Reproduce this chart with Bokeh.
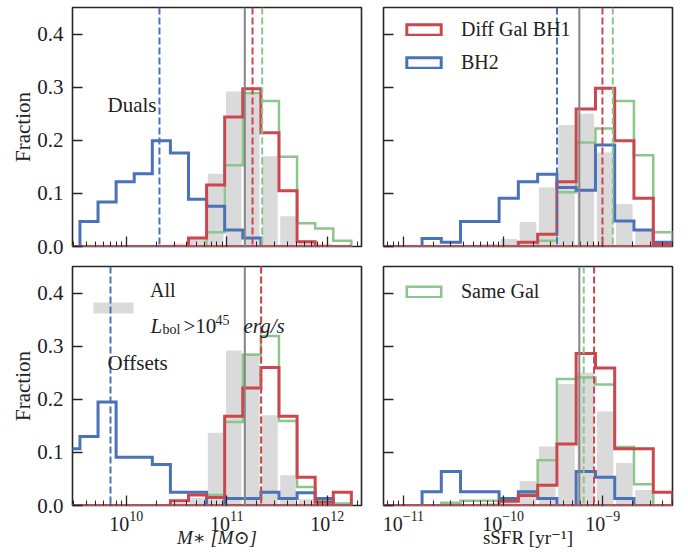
import numpy as np
from bokeh.plotting import figure
from bokeh.models import (Range1d, FixedTicker, PrintfTickFormatter, CustomJSTickFormatter,
                          Span, Label, Legend, LegendItem, BoxAnnotation)
from bokeh.layouts import gridplot
from bokeh.embed import file_html
from bokeh.resources import INLINE

# ---------------- data (log10 bin edges and fractions per bin) ----------------
mass_edges = [9.36, 9.54, 9.72, 9.90, 10.08, 10.26, 10.44, 10.62, 10.80, 10.98,
              11.16, 11.34, 11.52, 11.70, 11.88, 12.06, 12.24]
ssfr_edges = [-11.2, -11.007, -10.813, -10.62, -10.427, -10.233, -10.04, -9.847,
              -9.653, -9.46, -9.267, -9.073, -8.88, -8.687, -8.493, -8.3]

# "All, L_bol > 1e45 erg/s"
all_mass = [0, 0, 0, 0, 0, 0, 0.005, 0.014, 0.137, 0.292, 0.287, 0.170, 0.057, 0.012, 0.005, 0]
all_ssfr = [0, 0, 0, 0, 0.003, 0.005, 0.014, 0.046, 0.111, 0.229, 0.250, 0.177, 0.080, 0.029, 0]

# Duals
dual_bh1_mass = [0, 0, 0, 0, 0, 0, 0, 0.016, 0.116, 0.244, 0.297, 0.214, 0.105, 0.009, 0, 0]
dual_bh2_mass = [0, 0.047, 0.084, 0.122, 0.137, 0.199, 0.176, 0.089, 0.076, 0.031, 0.016, 0, 0, 0, 0, 0]
dual_same_mass = [0, 0, 0, 0, 0, 0, 0, 0, 0.027, 0.153, 0.289, 0.274, 0.169, 0.044, 0.034, 0.011]
dual_bh1_ssfr = [0, 0, 0, 0, 0, 0, 0, 0.008, 0.023, 0.122, 0.259, 0.298, 0.199, 0.091, 0.004]
dual_bh2_ssfr = [0, 0, 0.015, 0.008, 0.047, 0.047, 0.091, 0.122, 0.136, 0.111, 0.106, 0.191, 0.048, 0.031, 0.008]
dual_same_ssfr = [0, 0, 0, 0, 0, 0, 0, 0, 0.011, 0.102, 0.196, 0.222, 0.274, 0.172, 0.027]

# Offsets
off_bh1_mass = [0, 0, 0, 0, 0, 0, 0.009, 0.020, 0.015, 0.168, 0.221, 0.260, 0.168, 0.053, 0.006, 0.025]
off_bh2_mass = [0.107, 0.130, 0.195, 0.091, 0.091, 0.077, 0.025, 0.025, 0, 0.013, 0.013, 0.025, 0.013, 0.024, 0.013, 0]
off_same_mass = [0, 0, 0, 0, 0, 0, 0, 0, 0.020, 0.157, 0.284, 0.319, 0.159, 0.035, 0.008, 0.004]
off_bh1_ssfr = [0, 0, 0, 0, 0, 0, 0.008, 0.019, 0.038, 0.116, 0.286, 0.259, 0.107, 0.107, 0.025]
off_bh2_ssfr = [0, 0, 0.026, 0.064, 0.026, 0.026, 0.013, 0.026, 0.013, 0, 0.064, 0.053, 0.013, 0, 0]
off_same_ssfr = [0, 0, 0, 0.005, 0.009, 0.009, 0.009, 0.022, 0.085, 0.238, 0.241, 0.228, 0.110, 0.040, 0]

# medians (log10)
med_all_mass = 11.18
med_all_ssfr = -9.235
dual_med_mass = {"bh1": 11.257, "bh2": 10.331, "same": 11.353}
dual_med_ssfr = {"bh1": -9.003, "bh2": -9.459, "same": -8.899}
off_med_mass = {"bh1": 11.343, "bh2": 9.844, "same": 11.34}
off_med_ssfr = {"bh1": -9.087, "same": -9.191}

mass_xlim = (9.466, 12.341)
ssfr_xlim = (-11.2, -8.3)
y_ticks = [0, 0.1, 0.2, 0.3, 0.4]

# ---------------- style ----------------
FONT = "'Liberation Serif', 'Times New Roman', 'DejaVu Serif', serif"
RED = "#cc464e"
BLUE = "#4a72b8"
GREEN = "#8cc68c"
GRAYBAR = "#dadada"
MEDGRAY = "#858585"
INK = "#262626"


def step_outline(edges, vals):
    e = np.asarray(edges, dtype=float)
    xs = [e[0]]
    ys = [0.0]
    for i, v in enumerate(vals):
        xs += [e[i], e[i + 1]]
        ys += [v, v]
    xs.append(e[-1])
    ys.append(0.0)
    return list(10 ** np.array(xs)), ys


def make_fig(xlim, left, right, top, bottom, show_x, show_y, xlabel=None):
    p = figure(x_axis_type="log",
               x_range=Range1d(10 ** xlim[0], 10 ** xlim[1]),
               y_range=Range1d(0, 0.45),
               frame_width=289, frame_height=239,
               min_border_left=left, min_border_right=right,
               min_border_top=top, min_border_bottom=bottom,
               output_backend="svg", toolbar_location=None,
               background_fill_color="white", border_fill_color=None)
    p.xgrid.visible = False
    p.ygrid.visible = False
    p.outline_line_color = INK
    p.outline_line_width = 1.6
    p.outline_line_alpha = 1.0
    for ax in (p.xaxis[0], p.yaxis[0]):
        ax.axis_line_color = None
        ax.major_tick_in = 10
        ax.major_tick_out = 0
        ax.minor_tick_in = 5
        ax.minor_tick_out = 0
        ax.major_tick_line_color = INK
        ax.minor_tick_line_color = INK
        ax.major_tick_line_width = 1.3
        ax.minor_tick_line_width = 1.0
        ax.major_label_text_font = FONT
        ax.major_label_text_color = "#222222"
        ax.axis_label_text_font = FONT
        ax.axis_label_text_color = "#222222"
    p.yaxis.ticker = FixedTicker(ticks=y_ticks)
    if show_y:
        p.yaxis.formatter = PrintfTickFormatter(format="%.1f")
        p.yaxis.major_label_text_font_size = "21px"
        p.yaxis.major_label_standoff = 9
        p.yaxis.axis_label = "Fraction"
        p.yaxis.axis_label_text_font_size = "21px"
        p.yaxis.axis_label_text_font_style = "normal"
        p.yaxis.axis_label_standoff = -1
    else:
        p.yaxis.formatter = CustomJSTickFormatter(code="return ''")
        p.yaxis.major_label_standoff = 0
    if show_x:
        p.xaxis.major_label_text_font_size = "20px"
        p.xaxis.major_label_standoff = 5
        p.xaxis.axis_label = xlabel
        p.xaxis.axis_label_text_font_size = "19px"
        p.xaxis.axis_label_standoff = -7
    else:
        p.xaxis.formatter = CustomJSTickFormatter(code="return ''")
        p.xaxis.major_label_standoff = 0
    return p


def add_gray(p, edges, vals):
    e = np.asarray(edges, dtype=float)
    c = 0.5 * (e[:-1] + e[1:])
    w = np.diff(e)
    return p.quad(left=10 ** (c - 0.43 * w), right=10 ** (c + 0.43 * w),
                  top=vals, bottom=0, fill_color=GRAYBAR, line_color=None)


def add_step(p, edges, vals, color, width):
    xs, ys = step_outline(edges, vals)
    return p.patch(xs, ys, fill_color=None, line_color=color, line_width=width,
                   line_join="miter")


def add_medians(p, all_med, meds):
    p.add_layout(Span(location=10 ** all_med, dimension="height",
                      line_color=MEDGRAY, line_width=2))
    cols = {"bh1": RED, "bh2": BLUE, "same": GREEN}
    for key in ("same", "bh2", "bh1"):
        if key in meds:
            p.add_layout(Span(location=10 ** meds[key], dimension="height",
                              line_color=cols[key], line_width=2, line_dash="7 3"))


def txt(p, x, y, text, size="21px", style="normal"):
    p.add_layout(Label(x=x, y=y, x_units="screen", y_units="screen", text=text,
                       text_font=FONT, text_font_size=size, text_font_style=style,
                       text_color="#222222", text_baseline="alphabetic"))


# ---------------- panels ----------------
p_tl = make_fig(mass_xlim, 72, 11, 7, 14, False, True)
p_tr = make_fig(ssfr_xlim, 11, 16, 7, 14, False, False)
p_bl = make_fig(mass_xlim, 72, 11, 6, 54, True, True, "M\u2217 [M\u2299]")
p_br = make_fig(ssfr_xlim, 11, 16, 6, 54, True, False, "sSFR [yr\u207b\u00b9]")
p_bl.xaxis.axis_label_text_font_style = "italic"
p_br.xaxis.axis_label_text_font_style = "normal"

# Duals, stellar mass
add_gray(p_tl, mass_edges, all_mass)
add_step(p_tl, mass_edges, dual_same_mass, GREEN, 2.5)
add_step(p_tl, mass_edges, dual_bh2_mass, BLUE, 3)
add_step(p_tl, mass_edges, dual_bh1_mass, RED, 3)
add_medians(p_tl, med_all_mass, dual_med_mass)
txt(p_tl, 35, 142, "Duals")

# Duals, sSFR
add_gray(p_tr, ssfr_edges, all_ssfr)
add_step(p_tr, ssfr_edges, dual_same_ssfr, GREEN, 2.5)
r_bh2 = add_step(p_tr, ssfr_edges, dual_bh2_ssfr, BLUE, 3)
r_bh1 = add_step(p_tr, ssfr_edges, dual_bh1_ssfr, RED, 3)
add_medians(p_tr, med_all_ssfr, dual_med_ssfr)
leg_tr = Legend(items=[LegendItem(label="Diff Gal BH1", renderers=[r_bh1]),
                       LegendItem(label="BH2", renderers=[r_bh2])],
                location=(19, 172))
p_tr.add_layout(leg_tr)

# Offsets, stellar mass
r_all = add_gray(p_bl, mass_edges, all_mass)
add_step(p_bl, mass_edges, off_same_mass, GREEN, 2.5)
add_step(p_bl, mass_edges, off_bh2_mass, BLUE, 3)
add_step(p_bl, mass_edges, off_bh1_mass, RED, 3)
# legend patch for "All" (centred between the two label lines)
p_bl.add_layout(BoxAnnotation(left=21, right=61, top=203, bottom=192,
                              left_units="screen", right_units="screen",
                              top_units="screen", bottom_units="screen",
                              fill_color=GRAYBAR, fill_alpha=1.0, line_color=None))
add_medians(p_bl, med_all_mass, off_med_mass)
r_all_key = p_bl.quad(left=[], right=[], top=[], bottom=[], fill_alpha=0, line_alpha=0)
leg_bl = Legend(items=[LegendItem(label="All", renderers=[r_all_key])], location=(19, 203))
p_bl.add_layout(leg_bl)
txt(p_bl, 35, 143, "Offsets")
# L_bol > 10^45 erg/s
txt(p_bl, 78, 180, "L", style="italic")
txt(p_bl, 90, 176, "bol", size="14px")
txt(p_bl, 111, 180, ">10")
txt(p_bl, 143, 186, "45", size="14px")
txt(p_bl, 171, 180, "erg/s", style="italic")

# Offsets, sSFR
add_gray(p_br, ssfr_edges, all_ssfr)
r_same = add_step(p_br, ssfr_edges, off_same_ssfr, GREEN, 2.5)
add_step(p_br, ssfr_edges, off_bh2_ssfr, BLUE, 3)
add_step(p_br, ssfr_edges, off_bh1_ssfr, RED, 3)
add_medians(p_br, med_all_ssfr, off_med_ssfr)
leg_br = Legend(items=[LegendItem(label="Same Gal", renderers=[r_same])], location=(19, 202))
p_br.add_layout(leg_br)

for lg in (leg_tr, leg_bl, leg_br):
    lg.border_line_color = None
    lg.background_fill_alpha = 0
    lg.label_text_font = FONT
    lg.label_text_font_size = "20px"
    lg.label_text_color = "#222222"
    lg.glyph_width = 43
    lg.glyph_height = 13
    lg.label_height = 13
    lg.label_standoff = 16
    lg.spacing = 10
    lg.padding = 0
    lg.margin = 0
leg_bl.glyph_width = 40
leg_bl.label_standoff = 19

grid = gridplot([[p_tl, p_tr], [p_bl, p_br]], toolbar_location=None)

open("out.html", "w").write(file_html(grid, INLINE))
